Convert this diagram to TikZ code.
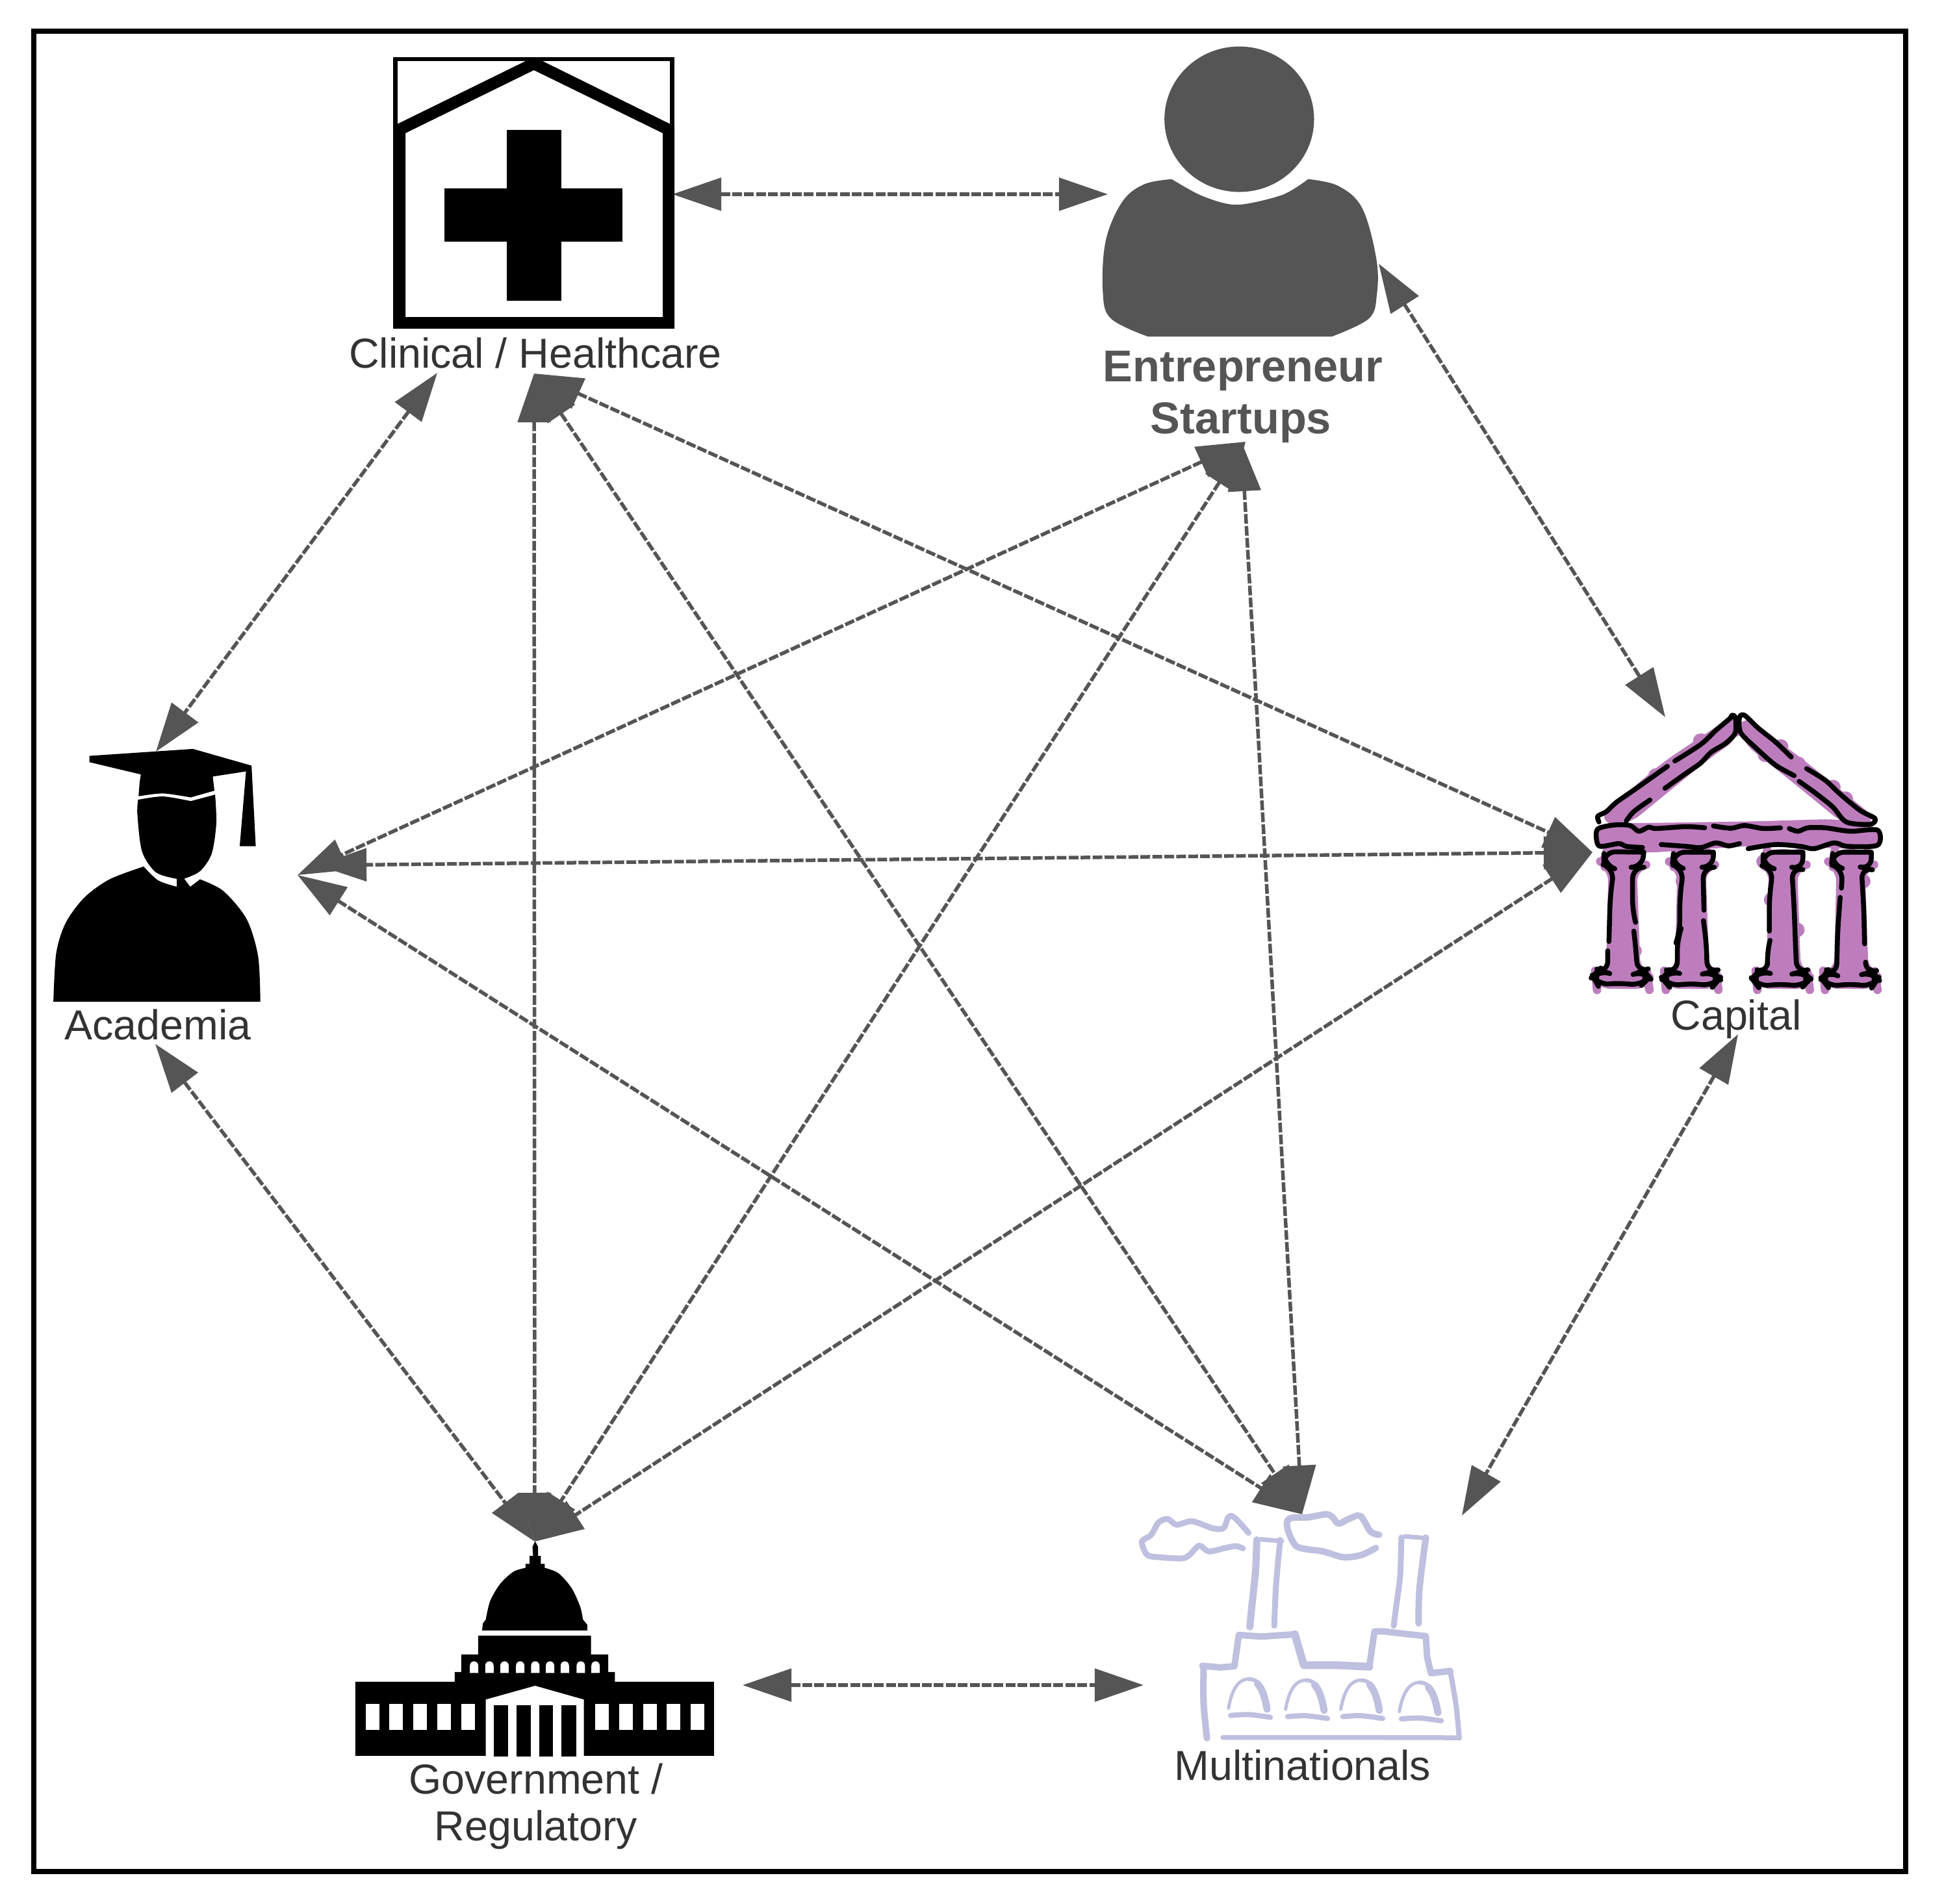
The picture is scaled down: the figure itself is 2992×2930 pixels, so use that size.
\documentclass[tikz,border=0pt]{standalone}
\usepackage{fontspec}
\setmainfont{Liberation Sans}
\usetikzlibrary{arrows.meta}
\definecolor{arrowgrey}{HTML}{555555}
\definecolor{labelgrey}{HTML}{333333}
\definecolor{templepurple}{HTML}{BD7DBD}
\definecolor{factoryblue}{HTML}{BFC0DF}
\newcommand{\pxu}{0.01cm}
\tikzset{
  zoomto/.style n args={4}{shift={(#1,#2)},x={0.01cm/#3},y={-0.01cm/#4}},
  link/.style={draw=arrowgrey,line width=5.5*\pxu,dash pattern=on 15*\pxu off 3.4*\pxu,
    {Triangle[length=0.75cm,width=0.5cm,fill=arrowgrey]}-{Triangle[length=0.75cm,width=0.5cm,fill=arrowgrey]}},
  lbl/.style={text=labelgrey,anchor=base,inner sep=0pt,font=\fontsize{18.35pt}{20pt}\selectfont},
  blbl/.style={text=arrowgrey,anchor=base,inner sep=0pt,font=\fontsize{19.5pt}{21pt}\selectfont\bfseries},
  fstroke/.style={draw=factoryblue,line cap=round,line join=round},
  tstroke/.style={draw=black,line width=7.5*\pxu,line cap=round,line join=round},
  tfill/.style={fill=templepurple,draw=templepurple,line width=13*\pxu,line join=round,rounded corners=6pt},
}
\begin{document}
\begin{tikzpicture}[x=0.01cm,y=-0.01cm]
\useasboundingbox (0,0) rectangle (2992,2930);
\fill[white] (0,0) rectangle (2992,2930);
\draw[line width=8*\pxu] (51.5,47.5) rectangle (2933,2881);

% named ends of connectors
\coordinate (cl) at (822,575);
\coordinate (st) at (1917,680);
\coordinate (stM) at (1911,681);
\coordinate (ca) at (2451,1312);
\coordinate (mu) at (2004,2331);
\coordinate (go) at (823,2373);
\coordinate (ac) at (458,1347);
\coordinate (acC) at (489,1332);
\coordinate (clR) at (1035,299);
\coordinate (stL) at (1705,299);
\coordinate (stR) at (2122,406);
\coordinate (caT) at (2563,1104);
\coordinate (caB) at (2675,1592);
\coordinate (muR) at (2250,2333);
\coordinate (muL) at (1760,2594);
\coordinate (goR) at (1143,2594);
\coordinate (clL) at (673,574);
\coordinate (acT) at (240,1157);
\coordinate (acB) at (239,1607);

\draw[link] (clR) -- (stL);
\draw[link] (stR) -- (caT);
\draw[link] (caB) -- (muR);
\draw[link] (goR) -- (muL);
\draw[link] (acB) -- (go);
\draw[link] (clL) -- (acT);
\draw[link] (cl) -- (ca);
\draw[link] (cl) -- (mu);
\draw[link] (cl) -- (go);
\draw[link] (st) -- (ac);
\draw[link] (st) -- (go);
\draw[link] (stM) -- (mu);
\draw[link] (ca) -- (acC);
\draw[link] (ca) -- (go);
\draw[link] (ac) -- (mu);

% hospital
\draw[line width=6.5*\pxu] (608.3,91) rectangle (1034.7,503);
\fill[even odd rule] (612,190.7) -- (809,94) -- (835,94) -- (1031,190.7) -- (1038,195) -- (1038,505.5) -- (605,505.5) -- (605,195) -- cycle
  (624,205) -- (821.7,108) -- (1020,205) -- (1020,488) -- (624,488) -- cycle;
\fill (779.5,200) rectangle (864,463);
\fill (684,290) rectangle (958,371.5);

% person
\begin{scope}[zoomto={1660}{50}{3}{2.178}]
\fill[arrowgrey] (742,291) ellipse [x radius=345.5,y radius=244];
\fill[arrowgrey] plot[smooth,tension=.5] coordinates {(430,492) (570,548) (730,578) (940,545) (1060,492)}
  -- plot[smooth,tension=.6] coordinates {(1060,492) (1200,515) (1310,590) (1375,760) (1377,880) (1340,960) (1170,1020)}
  -- plot[smooth,tension=.6] coordinates {(320,1020) (150,960) (112,870) (125,700) (200,570) (300,510) (430,492)} -- cycle;
\end{scope}

% graduate
\begin{scope}[zoomto={40}{1100}{2.8}{2.8}]
\fill (273,178) -- (720,148) -- (972,220) -- (990,567) -- (921,567) -- (948,245) -- (805,267) -- (812,328) -- (710,357)
  -- plot[smooth] coordinates {(710,357) (590,340) (485,352)} -- (490,290) -- (495,258) -- (273,205) -- cycle;
\fill plot[smooth] coordinates {(483,367) (590,353) (710,373)} -- (815,345)
  -- plot[smooth] coordinates {(815,345) (820,470) (800,600) (750,675) (680,708)} -- (650,708)
  -- plot[smooth] coordinates {(650,708) (560,680) (500,590) (480,430) (483,367)} -- cycle;
\fill plot[smooth] coordinates {(507,655) (360,710) (250,790) (170,900) (130,1030) (118,1238)} -- (1010,1238)
  -- plot[smooth] coordinates {(1010,1238) (1000,1040) (950,880) (850,760) (750,710)} -- (708,742) -- (682,708) -- (650,708) -- (650,742)
  -- plot[smooth] coordinates {(650,742) (570,715) (507,655)} -- cycle;
\end{scope}

% capitol
\begin{scope}[zoomto={500}{2240}{2.24}{2.45}]
\fill (105,855) -- (448,855) -- (448,818) -- (470,818) -- (470,752) -- (529,752) -- (529,681) -- (918,681) -- (918,752) -- (977,752) -- (977,818) -- (1000,818) -- (1000,855) -- (1342,855) -- (1342,1134) -- (105,1134) -- cycle;
\fill (542,661) -- (545,635) -- (555,620)
  -- plot[smooth] coordinates {(555,620) (570,550) (605,485) (650,440) (692,425)}
  -- (692,410) -- (706,410) -- (706,380) -- (718,380) -- (716,345) -- (725,325) -- (735,345) -- (735,380) -- (745,380) -- (745,410) -- (758,410) -- (758,425)
  -- plot[smooth] coordinates {(758,425) (805,445) (850,500) (880,570) (890,620)}
  -- (905,640) -- (905,661) -- cycle;
\foreach \a in {500,553,605,659,711,762,813,868,919}
  \fill[white] (\a,822) -- (\a,795) .. controls (\a,772) and (\a+29,772) .. (\a+29,795) -- (\a+29,822) -- cycle;
\foreach \a/\b in {141/188,221/269,305/352,388/435,470/517,932/979,1015/1062,1098/1145,1178/1225,1261/1308}
  \fill[white] (\a,938) rectangle (\b,1036);
\fill[white] (555,1134) -- (555,922) -- (725,870) -- (893,922) -- (893,1134) -- cycle;
\foreach \a/\b in {582/632,661/710,739/787,815/867}
  \fill (\a,943) rectangle (\b,1137);
\end{scope}

% factory
\begin{scope}[zoomto={1720}{2240}{2.529}{2.8}]
\draw[fstroke,line width=9*\pxu] plot[smooth] coordinates {(510,335) (470,285) (445,262) (430,270) (412,315) (370,315) (290,285) (230,300) (195,275) (160,290) (130,345) (95,372) (115,430) (165,440) (250,445) (280,430) (318,390) (355,415) (420,400) (460,392) (488,402)};
\draw[fstroke,line width=10*\pxu] plot[smooth] coordinates {(1018,343) (985,330) (945,262) (900,275) (860,295) (835,265) (810,255) (740,268) (680,270) (660,285) (665,330) (700,395) (800,415) (880,440) (950,430) (1005,400)};
\draw[fstroke,line width=11*\pxu] plot[smooth] coordinates {(542,365) (537,500) (522,660) (515,740)};
\draw[fstroke,line width=9*\pxu] plot[smooth] coordinates {(633,365) (617,560) (610,735)};
\draw[fstroke,line width=7*\pxu] (555,363) -- (640,370);
\draw[fstroke,line width=9*\pxu] plot[smooth] coordinates {(1105,355) (1100,520) (1085,650) (1075,735)};
\draw[fstroke,line width=10*\pxu] plot[smooth] coordinates {(1200,355) (1175,580) (1172,725)};
\draw[fstroke,line width=7*\pxu] (1118,350) -- (1205,358);
\draw[fstroke,line width=10*\pxu] (330,908) -- (400,915) -- (455,910) -- (472,775) -- (560,782) -- (690,772);
\draw[fstroke,line width=12*\pxu] (690,772) -- (725,905) -- (850,905) -- (980,912);
\draw[fstroke,line width=10*\pxu] (980,912) -- (1000,760) -- (1040,760) -- (1100,768) -- (1200,780) -- (1205,870) -- (1220,940) -- (1295,930);
\draw[fstroke,line width=8*\pxu] plot[smooth] coordinates {(1295,930) (1318,1080) (1330,1220)};
\draw[fstroke,line width=7.5*\pxu] (410,1217) -- (1000,1217) -- (1330,1218);
\draw[fstroke,line width=10*\pxu] plot[smooth] coordinates {(335,915) (335,1070) (348,1220)};
\foreach \dx/\dy in {0/0,222/5,437/5,665/15}{
  \begin{scope}[shift={(\dx,\dy)}]
  \draw[fstroke,line width=5*\pxu] (432,1090) .. controls (445,1010) and (470,965) .. (510,965);
  \draw[fstroke,line width=6*\pxu] (510,965) .. controls (530,965) and (548,975) .. (560,1000);
  \draw[fstroke,line width=11*\pxu] (545,985) .. controls (565,1010) and (575,1050) .. (582,1095);
  \draw[fstroke,line width=8*\pxu] plot[smooth] coordinates {(440,1122) (510,1118) (595,1130)};
  \end{scope}
}
\end{scope}

% temple
\begin{scope}[zoomto={2350}{1060}{2.613}{2.8}]
\fill[tfill] (840,130) -- (840,200) -- (720,290) -- (400,570) -- (300,565) -- (560,330) -- cycle;
\fill[tfill] (860,130) -- (1100,320) -- (1395,575) -- (1285,570) -- (1080,390) -- (880,220) -- cycle;
\fill[tfill] (290,600) -- (640,595) -- (930,590) -- (1240,580) -- (1405,605) -- (1405,675) -- (900,660) -- (480,690) -- (290,675) -- cycle;
\foreach \dx in {0,277,645,917}
  \fill[tfill] (\dx+320,710) -- (\dx+450,710) -- (\dx+450,765) -- (\dx+425,770) -- (\dx+440,1225) -- (\dx+485,1240) -- (\dx+490,1277) -- (\dx+280,1275) -- (\dx+277,1240) -- (\dx+335,1225) -- (\dx+340,1000) -- (\dx+345,770) -- (\dx+315,755) -- cycle;
\foreach \bx/\by in {320/745,955/745,985/910,1090/325,960/285,520/375,1085/1040,700/225,1230/425,1350/830,1275/1010,630/830,1020/250,1280/475,430/1130,1005/1040}
  \fill[templepurple] (\bx,\by) circle [x radius=32,y radius=32];
% roof
\draw[tstroke] plot[smooth] coordinates {(595,312) (700,240) (760,180) (815,130) (825,115) (838,125) (838,190) (800,235) (740,275) (700,320) (640,365) (555,430)};
\draw[tstroke] plot[smooth] coordinates {(565,335) (440,430) (360,490) (320,530) (285,550) (290,575)};
\draw[tstroke] plot[smooth] coordinates {(495,480) (430,530) (400,570)};
\draw[tstroke] plot[smooth] coordinates {(1063,295) (1000,230) (930,170) (875,115) (855,125) (860,190) (920,255) (1000,330) (1075,375)};
\draw[tstroke] plot[smooth] coordinates {(1125,345) (1200,395) (1260,455) (1340,525) (1400,560) (1380,585) (1285,575) (1230,510) (1160,450) (1095,400)};
% beam
\draw[tstroke] plot[smooth] coordinates {(715,600) (640,595) (520,603) (490,597) (450,615) (415,590) (350,588) (285,605) (280,650) (295,680) (370,668) (400,680) (465,685)};
\draw[tstroke] plot[smooth] coordinates {(540,672) (640,680) (700,685) (760,665) (810,678) (855,668)};
\draw[tstroke] plot[smooth] coordinates {(890,690) (1000,672) (1100,680) (1155,690) (1235,665) (1290,680) (1410,675) (1410,610) (1300,615) (1200,600) (1130,600) (1090,615) (1055,603)};
\draw[tstroke] plot[smooth] coordinates {(1020,600) (950,603) (875,590) (820,602) (750,592)};
% columns
\draw[tstroke,rounded corners=5] (470,705) -- (310,703) -- (310,760) -- (350,775) -- (335,900) -- (330,1090);
\draw[tstroke,rounded corners=5] (325,1130) -- (325,1225) -- (290,1212) -- (265,1240) -- (285,1278) -- (370,1268) -- (460,1280) -- (493,1245) -- (470,1215) -- (445,1225) -- (438,1120) -- (430,1045);
\draw[tstroke,rounded corners=5] (435,1000) -- (425,960) -- (425,770) -- (465,770) -- (470,705);
\draw[tstroke,rounded corners=5] (750,705) -- (590,705) -- (585,760) -- (630,775) -- (615,900) -- (615,1050) -- (605,1080) -- (605,1225) -- (570,1215) -- (545,1250) -- (570,1282) -- (660,1270) -- (750,1282) -- (775,1250) -- (750,1218) -- (725,1225) -- (722,1100) -- (710,1000);
\draw[tstroke,rounded corners=5] (712,955) -- (708,770) -- (750,770) -- (750,705);
\draw[tstroke,rounded corners=5] (1110,705) -- (950,705) -- (950,765) -- (990,775) -- (975,900) -- (975,1045);
\draw[tstroke,rounded corners=5] (978,1085) -- (965,1140) -- (970,1225) -- (935,1215) -- (905,1250) -- (930,1285) -- (1020,1272) -- (1110,1285) -- (1140,1250) -- (1110,1218) -- (1085,1225) -- (1080,1100) -- (1075,950) -- (1065,770) -- (1110,780) -- (1110,705);
\draw[tstroke,rounded corners=5] (1385,705) -- (1230,705) -- (1225,760) -- (1270,775) -- (1265,860);
\draw[tstroke,rounded corners=5] (1260,900) -- (1250,1040) -- (1245,1235) -- (1210,1215) -- (1185,1250) -- (1210,1285) -- (1300,1272) -- (1390,1285) -- (1412,1250) -- (1390,1220) -- (1362,1228) -- (1362,1185);
\draw[tstroke,rounded corners=5] (1358,1100) -- (1355,950) -- (1345,770) -- (1385,780) -- (1385,705);
\end{scope}

% labels
\node[lbl] (lcl) at (824,566) {Clinical / Healthcare};
\node[blbl] (lst1) at (1913,587) {Entrepreneur};
\node[blbl] (lst2) at (1910,667) {Startups};
\node[lbl] (lac) at (243,1600) {Academia};
\node[lbl] (lca) at (2672,1585) {Capital};
\node[lbl] (lgo1) at (825,2761) {Government /};
\node[lbl] (lgo2) at (825,2833) {Regulatory};
\node[lbl] (lmu) at (2005,2740) {Multinationals};
\end{tikzpicture}
\end{document}
